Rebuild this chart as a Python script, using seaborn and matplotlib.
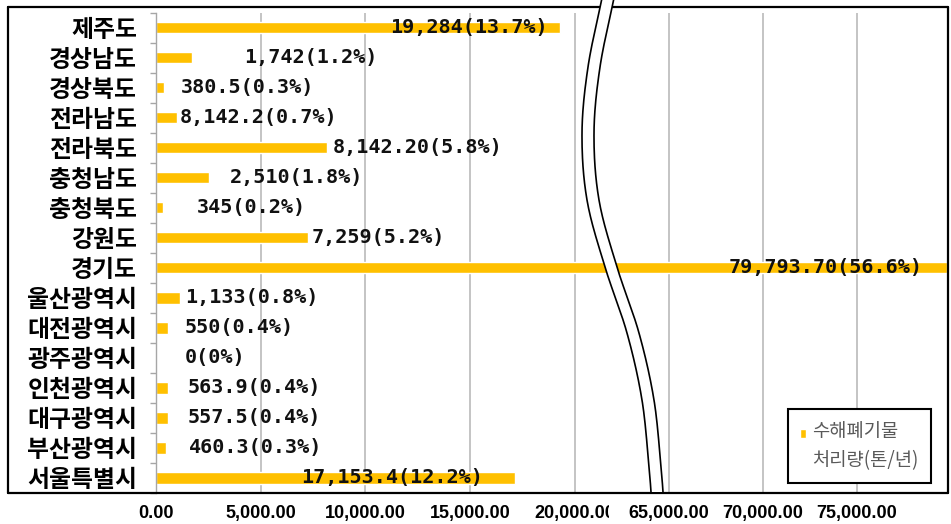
import numpy as np
import pandas as pd
import matplotlib
matplotlib.use("Agg")
import matplotlib.pyplot as plt
from matplotlib.lines import Line2D
from matplotlib.patches import Polygon, Rectangle
from matplotlib.legend_handler import HandlerPatch
import seaborn as sns

# ---- data -------------------------------------------------------------
regions = ["제주도", "경상남도", "경상북도", "전라남도", "전라북도", "충청남도",
           "충청북도", "강원도", "경기도", "울산광역시", "대전광역시", "광주광역시",
           "인천광역시", "대구광역시", "부산광역시", "서울특별시"]
amounts = [19284, 1742, 380.5, 987, 8142.2, 2510, 345, 7259, 79793.7,
           1133, 550, 0, 563.9, 557.5, 460.3, 17153.4]
value_labels = ["19,284(13.7%)", "1,742(1.2%)", "380.5(0.3%)", "8,142.2(0.7%)",
                "8,142.20(5.8%)", "2,510(1.8%)", "345(0.2%)", "7,259(5.2%)",
                "79,793.70(56.6%)", "1,133(0.8%)", "550(0.4%)", "0(0%)",
                "563.9(0.4%)", "557.5(0.4%)", "460.3(0.3%)", "17,153.4(12.2%)"]
series_name = "수해폐기물\n처리량(톤/년)"
left_ticks = [0, 5000, 10000, 15000, 20000]
right_ticks = [65000, 70000, 75000]

# label placement: pixel offset from the bar end (negative = inside, right aligned)
label_offsets = [-12, 52, 17, 3, 6, 21, 34, 4, -25, 5, 17, 29, 20, 20, 23, -32]

GOLD = "#FFC000"
GRID = "#bfbfbf"

sns.set_style("white")
plt.rcParams["font.family"] = ["Noto Sans CJK KR", "DejaVu Sans"]

df = pd.DataFrame({"region": regions, "amount": amounts, "series": series_name})

W, H = 951, 524
fig = plt.figure(figsize=(W / 100, H / 100), dpi=100)


def fx(px):
    return px / W


def fy(py):
    return 1 - py / H


top, bottom = 12.5, 493
ax_l = fig.add_axes([fx(156), fy(bottom), fx(614) - fx(156), fy(top) - fy(bottom)])
ax_r = fig.add_axes([fx(614), fy(bottom), fx(948) - fx(614), fy(top) - fy(bottom)])

for ax in (ax_l, ax_r):
    sns.barplot(data=df, x="amount", y="region", hue="series", palette=[GOLD],
                width=0.38, saturation=1, errorbar=None, ax=ax,
                legend=(ax is ax_r), zorder=2)
    ax.set_xlabel("")
    ax.set_ylabel("")
    ax.set_facecolor("none")
    ax.grid(axis="x", color=GRID, lw=1.3)
    ax.grid(axis="y", visible=False)
    ax.set_axisbelow(True)
    for s in ax.spines.values():
        s.set_visible(False)

# broken value axis: low range on the left, high range on the right
ax_l.set_xlim(0, 21862)
ax_r.set_xlim(62074, 79840)

tick_font = dict(family="Liberation Sans", weight="bold", size=13)
ax_l.set_xticks(left_ticks)
ax_l.set_xticklabels([f"{t:,.2f}" for t in left_ticks], fontdict=tick_font)
ax_r.set_xticks(right_ticks)
ax_r.set_xticklabels([f"{t:,.2f}" for t in right_ticks], fontdict=tick_font)
for ax in (ax_l, ax_r):
    ax.tick_params(axis="x", length=0, pad=8.5, colors="black")

# category axis
ax_l.spines["left"].set_visible(True)
ax_l.spines["left"].set_color("#a6a6a6")
ax_l.spines["left"].set_linewidth(1.0)
ax_l.set_yticks(range(len(regions)))
ax_l.set_yticklabels(regions, fontdict=dict(family="Noto Sans CJK KR",
                                             weight="bold", size=17.2))
ax_l.set_yticks(np.arange(-0.5, len(regions), 1), minor=True)
ax_l.tick_params(axis="y", which="major", length=0, pad=13.5, colors="black")
ax_l.tick_params(axis="y", which="minor", length=4, width=1, color="#a6a6a6",
                 direction="out", left=True)
ax_r.tick_params(axis="y", which="both", left=False, labelleft=False)
ax_r.set_yticks([])

# value labels
split = ax_l.get_xlim()[1]
for i, (v, text, off) in enumerate(zip(amounts, value_labels, label_offsets)):
    ax = ax_r if v > split else ax_l
    ax.annotate(text, xy=(v, i), xytext=(off, 0), textcoords="offset pixels",
                ha="left" if off >= 0 else "right", va="center",
                family="DejaVu Sans Mono", weight="bold", size=14.5,
                color="#111111", zorder=5, annotation_clip=False)

# legend: the swatch sits beside the first line of the two-line label
LEG_SIZE = 13.5
LEG_SPACING = 1.5


def first_line_swatch(legend, orig_handle, xdescent, ydescent, width, height, fontsize):
    return Rectangle((-xdescent, -ydescent + 0.76 * fontsize), width, height)


sns.move_legend(ax_r, loc="upper left", bbox_to_anchor=(fx(788), fy(409)),
                bbox_transform=fig.transFigure, title=None, frameon=True,
                fancybox=False, edgecolor="black", framealpha=1,
                borderpad=0.65, borderaxespad=0, handlelength=0.33,
                handleheight=0.33, handletextpad=0.3,
                handler_map={Rectangle: HandlerPatch(patch_func=first_line_swatch)},
                prop=dict(family="Noto Sans CJK KR", size=LEG_SIZE))
leg = ax_r.get_legend()
leg.get_frame().set_linewidth(1.5)
for t in leg.get_texts():
    t.set_color("#595959")
    t.set_linespacing(LEG_SPACING)

# outer frame
frame = [((8, 7), (948, 7)), ((8, 7), (8, bottom)), ((948, 7), (948, bottom)),
         ((8, bottom), (948, bottom))]
for (x0, y0), (x1, y1) in frame:
    fig.add_artist(Line2D([fx(x0), fx(x1)], [fy(y0), fy(y1)], color="black",
                          lw=1.6, transform=fig.transFigure, zorder=10))


def catmull_rom(points, n=24):
    p = np.asarray(points, float)
    p = np.vstack([2 * p[0] - p[1], p, 2 * p[-1] - p[-2]])
    out = []
    t = np.linspace(0, 1, n, endpoint=False)[:, None]
    for i in range(1, len(p) - 2):
        p0, p1, p2, p3 = p[i - 1], p[i], p[i + 1], p[i + 2]
        out.append(0.5 * (2 * p1 + (-p0 + p2) * t
                          + (2 * p0 - 5 * p1 + 4 * p2 - p3) * t ** 2
                          + (-p0 + 3 * p1 - 3 * p2 + p3) * t ** 3))
    out.append(p[-2][None, :])
    return np.vstack(out)


# wavy axis-break band
wave = catmull_rom([(602, -2), (588, 67), (582, 133), (587, 200), (605, 267),
                    (627, 333), (642, 400), (649, 467), (651, 492)])
gap = 12
left_edge = np.column_stack([fx(wave[:, 0]), fy(wave[:, 1])])
right_edge = np.column_stack([fx(wave[:, 0] + gap), fy(wave[:, 1])])
band = np.vstack([left_edge, right_edge[::-1]])
fig.add_artist(Polygon(band, closed=True, facecolor="white", edgecolor="none",
                       transform=fig.transFigure, zorder=20))
for edge in (left_edge, right_edge):
    fig.add_artist(Line2D(edge[:, 0], edge[:, 1], color="black", lw=1.2,
                          transform=fig.transFigure, zorder=21))
# the break also trims the last low-range tick label
fig.add_artist(Rectangle((fx(609), fy(524)), fx(628) - fx(609), fy(497) - fy(524),
                         facecolor="white", edgecolor="none",
                         transform=fig.transFigure, zorder=20))

fig.savefig("out.png", dpi=100, facecolor="white")
